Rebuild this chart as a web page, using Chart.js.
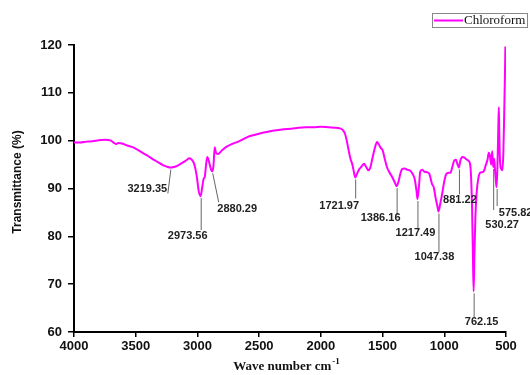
<!DOCTYPE html>
<html lang="en">
<head>
<meta charset="UTF-8">
<title>Chloroform FTIR</title>
<script src="https://cdn.jsdelivr.net/npm/chart.js"></script>
<style>
    * { margin: 0; padding: 0; }
    body { background: #fff; width: 530px; height: 375px; overflow: hidden; }
</style>
</head>
<body>
<canvas id="ftir" width="530" height="375"></canvas>
<script>
// spectrum (wave number in cm-1, transmittance in %)
const waveNumbers = [
    4000, 3950, 3900, 3850, 3800, 3750, 3700, 3680, 3660, 3640, 3610, 3570, 3520, 3480, 3440, 3400,
    3360, 3320, 3280, 3240, 3219.35, 3190, 3160, 3120, 3090, 3065, 3045, 3025, 3005, 2990, 2973.56,
    2960, 2950, 2940, 2930, 2920, 2905, 2890, 2880.29, 2870, 2860, 2850, 2835, 2800, 2760, 2720,
    2660, 2600, 2540, 2480, 2420, 2360, 2300, 2240, 2180, 2120, 2060, 2000, 1940, 1890, 1850, 1825,
    1805, 1790, 1775, 1760, 1745, 1735, 1721.97, 1705, 1690, 1670, 1650, 1635, 1615, 1600, 1585,
    1565, 1545, 1530, 1515, 1500, 1485, 1465, 1445, 1420, 1400, 1386.16, 1370, 1355, 1340, 1320,
    1300, 1280, 1260, 1240, 1225, 1217.49, 1205, 1195, 1180, 1160, 1140, 1120, 1100, 1085, 1070,
    1055, 1047.38, 1035, 1020, 1000, 985, 965, 950, 935, 920, 905, 895, 881.22, 870, 855, 840, 820,
    805, 795, 785, 775, 768, 762.15, 756, 748, 738, 725, 710, 695, 680, 665, 650, 640, 630, 620,
    612, 604, 596, 588, 580, 575.82, 568, 562, 558, 554, 548, 540, 530.27, 522, 515, 509, 505
];
const transmittance = [
    99.6, 99.6, 99.8, 99.9, 100.1, 100.2, 100.0, 99.6, 99.3, 99.5, 99.4, 99.0, 98.6, 98.0, 97.4, 96.8,
    96.1, 95.5, 94.9, 94.5, 94.4, 94.5, 94.8, 95.4, 95.9, 96.3, 96.0, 95.0, 92.5, 89.5, 88.4,
    90.5, 92.0, 92.5, 95.0, 96.6, 95.5, 94.0, 93.6, 94.8, 98.6, 97.5, 97.2, 98.0, 98.8, 99.3,
    99.9, 100.7, 101.2, 101.6, 101.9, 102.2, 102.4, 102.5, 102.7, 102.8, 102.8, 102.9, 102.8, 102.7, 102.6, 102.3,
    101.5, 100.0, 98.0, 96.2, 95.0, 93.8, 92.3, 93.2, 94.0, 94.6, 95.2, 94.6, 93.8, 94.3, 96.0,
    98.2, 99.7, 99.2, 98.5, 98.0, 96.5, 94.5, 93.4, 92.3, 91.2, 90.5, 91.5, 93.2, 94.1, 94.2,
    93.9, 93.8, 93.2, 92.0, 89.5, 87.8, 90.5, 93.5, 93.9, 93.5, 93.4, 93.0, 91.0, 90.2, 88.0,
    86.2, 85.2, 86.5, 88.5, 91.5, 93.0, 93.3, 93.3, 94.5, 95.8, 96.0, 95.2, 94.4, 95.8, 96.6, 96.5, 96.1,
    95.8, 95.5, 93.5, 86.0, 76.0, 68.5, 76.0, 84.0, 89.0, 92.0, 93.3, 93.4, 93.6, 94.8, 96.0, 97.5, 96.8, 95.0,
    97.8, 94.5, 96.2, 93.5, 91.0, 90.3, 96.0, 103.0, 107.0, 101.0, 95.5, 94.2, 93.8, 97.0, 105.0, 113.0, 119.7
];

const xTicks = [4000, 3500, 3000, 2500, 2000, 1500, 1000, 500];
const yTicks = [60, 70, 80, 90, 100, 110, 120];

// peak labels and the wave number each pointer line starts from
const peakLabels = ['3219.35', '2973.56', '2880.29', '1721.97', '1386.16', '1217.49', '1047.38', '881.22', '762.15', '530.27', '575.82'];
const peakAt = [3219.35, 2973.56, 2880.29, 1721.97, 1386.16, 1217.49, 1047.38, 881.22, 762.15, 604, 575.82];

// pointer/label offsets in px from the peak: [lineEndDx, lineEndDy, textDx, textDy]
const peakLayout = [
    [-3, 26, -23, 22],
    [0, 34, -13, 40],
    [6, 31, 25, 38],
    [0, 21, -16, 28],
    [0, 29, -16, 32],
    [0, 31, -2, 34],
    [0, 41, -4, 46],
    [0, 27, 1, 33],
    [0, 26, 8, 31],
    [0, 43, 9, 58],
    [0, 19, 19, 26]
];

const sansBold = 'bold 11px "Liberation Sans", Arial, sans-serif';

const ftirDecor = {
    id: 'ftirDecor',
    afterDatasetsDraw(chart) {
        const ctx = chart.ctx;
        const xs = chart.scales.x, ys = chart.scales.y;
        ctx.save();
        peakLabels.forEach((txt, i) => {
            let best = 0;
            waveNumbers.forEach((w, j) => {
                if (Math.abs(w - peakAt[i]) < Math.abs(waveNumbers[best] - peakAt[i])) best = j;
            });
            const px = xs.getPixelForValue(peakAt[i]);
            const py = ys.getPixelForValue(transmittance[best]);
            const [ldx, ldy, tdx, tdy] = peakLayout[i];
            ctx.strokeStyle = '#666';
            ctx.lineWidth = 1;
            ctx.beginPath();
            ctx.moveTo(px + 0.5, py + 2);
            ctx.lineTo(px + ldx + 0.5, py + ldy);
            ctx.stroke();
            ctx.fillStyle = '#222';
            ctx.font = sansBold;
            ctx.textAlign = 'center';
            ctx.textBaseline = 'middle';
            ctx.fillText(txt, px + tdx, py + tdy);
        });
        ctx.restore();
    },
    afterDraw(chart) {
        const ctx = chart.ctx;
        ctx.save();
        // legend box
        ctx.strokeStyle = '#888';
        ctx.lineWidth = 1;
        ctx.strokeRect(432.5, 13.5, 95, 14);
        ctx.strokeStyle = '#ff00ff';
        ctx.lineWidth = 2;
        ctx.beginPath();
        ctx.moveTo(434, 20.5);
        ctx.lineTo(463, 20.5);
        ctx.stroke();
        ctx.fillStyle = '#111';
        ctx.font = '13px "Liberation Serif", "Times New Roman", serif';
        ctx.textAlign = 'left';
        ctx.textBaseline = 'middle';
        ctx.fillText('Chloroform', 464, 21);

        // y title
        ctx.save();
        ctx.translate(18, 182);
        ctx.rotate(-Math.PI / 2);
        ctx.font = 'bold 12px "Liberation Sans", Arial, sans-serif';
        ctx.textAlign = 'center';
        ctx.textBaseline = 'middle';
        ctx.fillText('Transmittance (%)', 0, 0);
        ctx.restore();

        // x title with superscript
        ctx.font = 'bold 13px "Liberation Serif", "Times New Roman", serif';
        const main = 'Wave number cm';
        const w1 = ctx.measureText(main).width;
        ctx.font = 'bold 9px "Liberation Serif", "Times New Roman", serif';
        const w2 = ctx.measureText('-1').width;
        const x0 = 286 - (w1 + w2) / 2;
        ctx.textAlign = 'left';
        ctx.textBaseline = 'alphabetic';
        ctx.font = 'bold 13px "Liberation Serif", "Times New Roman", serif';
        ctx.fillText(main, x0, 370);
        ctx.font = 'bold 9px "Liberation Serif", "Times New Roman", serif';
        ctx.fillText('-1', x0 + w1 + 1, 364);
        ctx.restore();
    }
};

const tickFont = { family: '"Liberation Sans", Arial, sans-serif', weight: 'bold', size: 13 };

new Chart(document.getElementById('ftir').getContext('2d'), {
    type: 'line',
    data: {
        datasets: [{
            label: 'Chloroform',
            data: waveNumbers.map((w, i) => ({ x: w, y: transmittance[i] })),
            borderColor: '#ff00ff',
            borderWidth: 2,
            pointRadius: 0,
            cubicInterpolationMode: 'monotone',
            fill: false
        }]
    },
    options: {
        responsive: false,
        animation: false,
        layout: { padding: { top: 45, right: 24, left: 0, bottom: 0 } },
        plugins: {
            legend: { display: false },
            tooltip: { enabled: false }
        },
        scales: {
            x: {
                type: 'linear',
                reverse: true,
                min: 500,
                max: 4000,
                afterFit: s => { s.height = 43; },
                afterBuildTicks: s => { s.ticks = xTicks.map(v => ({ value: v })); },
                ticks: { font: tickFont, color: '#111', padding: 2, maxRotation: 0, autoSkip: false, callback: v => String(v) },
                grid: { drawOnChartArea: false, drawTicks: true, tickLength: 5, color: '#000', lineWidth: 1.5 },
                border: { color: '#000', width: 2 }
            },
            y: {
                min: 60,
                max: 120,
                afterFit: s => { s.width = 74; },
                afterBuildTicks: s => { s.ticks = yTicks.map(v => ({ value: v })); },
                ticks: { font: tickFont, color: '#111', padding: 6, callback: v => String(v) },
                grid: { drawOnChartArea: false, drawTicks: true, tickLength: 6, color: '#000', lineWidth: 1.5 },
                border: { color: '#000', width: 2 }
            }
        }
    },
    plugins: [ftirDecor]
});
</script>
</body>
</html>
